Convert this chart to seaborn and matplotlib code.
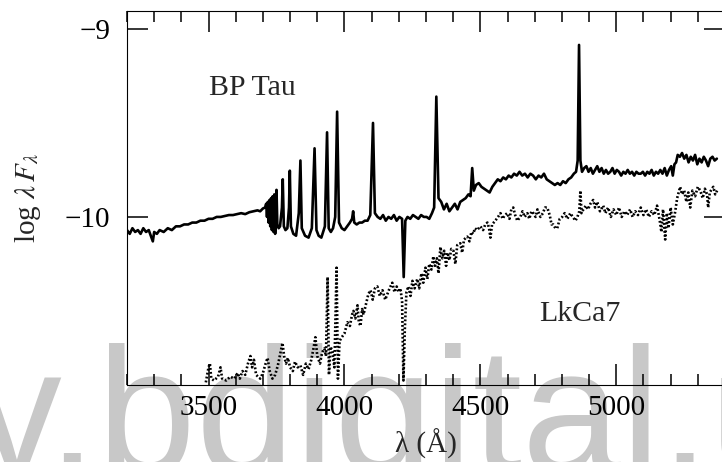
import matplotlib
matplotlib.use("Agg")
import matplotlib.pyplot as plt
import seaborn as sns
import pandas as pd
from matplotlib.ticker import MultipleLocator

# ---------------- data ----------------
bp_wave = [3200, 3210, 3220, 3230, 3240, 3250, 3260, 3270, 3280, 3290, 3295, 3300, 3310, 3320, 3335, 3350,
           3365, 3380, 3395, 3410, 3425, 3440, 3455, 3470, 3485, 3500, 3515, 3530, 3545, 3560, 3575, 3590,
           3605, 3620, 3635, 3650, 3665, 3680, 3690, 3700, 3708, 3712, 3715, 3718, 3721, 3724, 3727, 3730,
           3733, 3736, 3739, 3742, 3745, 3748, 3750, 3753, 3758, 3763, 3770, 3773, 3777, 3783, 3790, 3796,
           3799, 3803, 3812, 3822, 3832, 3838, 3843, 3855, 3868, 3880, 3890, 3897, 3905, 3915, 3928, 3936,
           3942, 3950, 3958, 3966, 3973, 3980, 3990, 4000, 4010, 4020, 4028, 4032, 4036, 4045, 4055, 4065,
           4075, 4085, 4095, 4105, 4112, 4122, 4132, 4142, 4152, 4162, 4172, 4182, 4192, 4202, 4212, 4218,
           4224, 4232, 4242, 4252, 4262, 4272, 4282, 4292, 4302, 4312, 4322, 4330, 4338, 4346, 4356, 4366,
           4376, 4386, 4396, 4406, 4416, 4426, 4436, 4446, 4456, 4464, 4470, 4476, 4484, 4494, 4504, 4514,
           4524, 4534, 4544, 4554, 4564, 4574, 4584, 4594, 4604, 4614, 4624, 4634, 4644, 4654, 4664, 4674,
           4684, 4694, 4704, 4714, 4724, 4734, 4744, 4754, 4764, 4774, 4784, 4794, 4804, 4814, 4824, 4834,
           4844, 4852, 4858, 4863, 4868, 4874, 4882, 4890, 4898, 4906, 4914, 4922, 4930, 4938, 4946, 4954,
           4962, 4970, 4978, 4986, 4994, 5002, 5010, 5018, 5026, 5034, 5042, 5050, 5058, 5066, 5074, 5082,
           5090, 5098, 5106, 5114, 5122, 5130, 5138, 5146, 5154, 5162, 5170, 5178, 5186, 5194, 5202, 5208,
           5214, 5220, 5226, 5234, 5242, 5250, 5258, 5266, 5274, 5282, 5290, 5298, 5306, 5314, 5322, 5330,
           5338, 5346, 5354, 5362, 5370]
bp_flux = [-10.07, -10.09, -10.06, -10.08, -10.07, -10.09, -10.06, -10.08, -10.07, -10.11, -10.13, -10.08,
           -10.09, -10.07, -10.08, -10.06, -10.07, -10.05, -10.05, -10.04, -10.04, -10.03, -10.03, -10.02,
           -10.02, -10.01, -10.01, -10.00, -10.00, -9.995, -9.99, -9.99, -9.985, -9.98, -9.985, -9.975,
           -9.97, -9.965, -9.97, -9.955, -9.95, -9.93, -10.0, -9.92, -10.03, -9.91, -10.05, -9.9,
           -10.07, -9.89, -10.08, -9.88, -10.09, -9.98, -9.856, -10.04, -10.06, -10.05, -9.95, -9.80,
           -10.05, -10.07, -10.06, -9.95, -9.754, -10.05, -10.09, -10.10, -9.98, -9.70, -10.06, -10.10,
           -10.11, -10.06, -9.635, -10.07, -10.10, -10.11, -10.05, -9.55, -10.06, -10.08, -10.06, -10.0,
           -9.44, -10.03, -10.06, -10.07, -10.05, -10.03, -10.01, -9.97, -10.03, -10.04, -10.03, -10.03,
           -10.02, -10.02, -9.99, -9.50, -9.98, -10.0, -10.01, -9.99, -10.02, -10.0, -10.01, -9.99,
           -10.02, -10.0, -10.01, -10.32, -10.02, -10.0, -10.01, -9.99, -10.0, -10.01, -9.99, -10.0,
           -10.0, -10.01, -9.98, -9.95, -9.36, -9.90, -9.92, -9.96, -9.93, -9.97, -9.95, -9.93,
           -9.96, -9.92, -9.91, -9.90, -9.88, -9.89, -9.74, -9.86, -9.83, -9.82, -9.84, -9.85,
           -9.86, -9.87, -9.84, -9.82, -9.80, -9.81, -9.79, -9.80, -9.78, -9.79, -9.77, -9.78,
           -9.76, -9.78, -9.77, -9.79, -9.77, -9.78, -9.80, -9.78, -9.79, -9.77, -9.80, -9.81,
           -9.82, -9.83, -9.82, -9.83, -9.81, -9.82, -9.80, -9.79, -9.77, -9.76, -9.70, -9.085,
           -9.70, -9.76, -9.74, -9.73, -9.76, -9.74, -9.77, -9.75, -9.73, -9.76, -9.74, -9.77,
           -9.75, -9.77, -9.76, -9.74, -9.77, -9.75, -9.76, -9.78, -9.76, -9.77, -9.75, -9.77,
           -9.76, -9.78, -9.76, -9.77, -9.77, -9.76, -9.78, -9.76, -9.77, -9.75, -9.78, -9.76,
           -9.77, -9.75, -9.77, -9.74, -9.78, -9.75, -9.73, -9.78, -9.72, -9.71, -9.67, -9.68,
           -9.66, -9.69, -9.67, -9.71, -9.68, -9.70, -9.67, -9.72, -9.69, -9.71, -9.68, -9.70,
           -9.73, -9.69, -9.68, -9.70, -9.69]

lk_wave = [3490, 3500, 3505, 3510, 3520, 3535, 3544, 3550, 3565, 3580, 3595, 3607, 3615, 3625, 3635, 3645,
           3654, 3660, 3667, 3675, 3690, 3700, 3710, 3717, 3725, 3735, 3745, 3755, 3765, 3772, 3778, 3785,
           3792, 3800, 3810, 3818, 3828, 3838, 3848, 3858, 3868, 3878, 3886, 3893, 3900, 3910, 3918, 3926,
           3932, 3938, 3943, 3949, 3956, 3963, 3971, 3976, 3982, 3990, 4000, 4011, 4020, 4028, 4033, 4040,
           4048, 4053, 4059, 4065, 4070, 4080, 4088, 4096, 4104, 4112, 4121, 4130, 4140, 4150, 4158, 4166,
           4176, 4184, 4192, 4200, 4206, 4212, 4217, 4222, 4228, 4235, 4243, 4250, 4258, 4268, 4275, 4283,
           4290, 4298, 4305, 4312, 4320, 4327, 4333, 4340, 4346, 4353, 4360, 4367, 4374, 4379, 4386, 4393,
           4401, 4408, 4415, 4426, 4433, 4440, 4452, 4460, 4467, 4474, 4480, 4488, 4500, 4510, 4518, 4526,
           4532, 4537, 4543, 4555, 4565, 4574, 4582, 4590, 4599, 4607, 4614, 4621, 4628, 4636, 4647, 4655,
           4663, 4673, 4680, 4688, 4695, 4703, 4710, 4721, 4730, 4738, 4746, 4755, 4762, 4768, 4776, 4783,
           4792, 4801, 4810, 4820, 4831, 4840, 4850, 4857, 4864, 4868, 4872, 4879, 4888, 4896, 4905, 4915,
           4922, 4930, 4940, 4952, 4960, 4970, 4980, 4990, 5000, 5010, 5020, 5030, 5040, 5051, 5060, 5070,
           5080, 5090, 5100, 5110, 5120, 5130, 5140, 5150, 5160, 5166, 5172, 5180, 5186, 5192, 5200, 5208,
           5217, 5224, 5235, 5242, 5250, 5258, 5265, 5272, 5280, 5290, 5300, 5309, 5318, 5326, 5334, 5338,
           5344, 5352, 5357, 5364, 5371]
lk_flux = [-10.88, -10.80, -10.78, -10.86, -10.87, -10.85, -10.80, -10.86, -10.87, -10.85, -10.86, -10.83,
           -10.86, -10.82, -10.84, -10.78, -10.74, -10.80, -10.76, -10.84, -10.86, -10.83, -10.78, -10.75,
           -10.82, -10.86, -10.84, -10.79, -10.72, -10.67, -10.74, -10.78, -10.75, -10.80, -10.82, -10.77,
           -10.80, -10.79, -10.84, -10.78, -10.81, -10.76, -10.70, -10.64, -10.74, -10.78, -10.72, -10.70,
           -10.74, -10.32, -10.84, -10.69, -10.72, -10.80, -10.27, -10.86, -10.66, -10.64, -10.62, -10.56,
           -10.58, -10.52, -10.50, -10.54, -10.47, -10.56, -10.58, -10.49, -10.52, -10.46, -10.41, -10.39,
           -10.44, -10.38, -10.37, -10.42, -10.39, -10.44, -10.41, -10.38, -10.35, -10.40, -10.37, -10.40,
           -10.38, -10.45, -10.87, -10.60, -10.40, -10.37, -10.42, -10.34, -10.38, -10.33, -10.38, -10.30,
           -10.35, -10.27, -10.33, -10.25, -10.28, -10.21, -10.26, -10.22, -10.30, -10.16, -10.22, -10.18,
           -10.26, -10.19, -10.23, -10.17, -10.18, -10.25, -10.15, -10.14, -10.19, -10.12, -10.105, -10.13,
           -10.08, -10.09, -10.06, -10.07, -10.05, -10.07, -10.04, -10.03, -10.06, -10.11, -10.04, -10.02,
           -10.00, -9.98, -10.01, -9.99, -9.98, -10.01, -9.96, -9.95, -9.99, -10.02, -10.00, -9.97,
           -10.00, -9.98, -10.01, -9.97, -9.98, -10.00, -9.96, -10.00, -9.98, -9.95, -9.95, -9.99,
           -10.04, -10.04, -10.06, -10.06, -10.01, -10.00, -9.98, -10.01, -9.98, -10.00, -10.02, -10.00,
           -9.97, -9.86, -9.98, -9.96, -9.94, -9.96, -9.93, -9.91, -9.95, -9.92, -9.97, -9.94,
           -9.98, -9.95, -10.00, -9.96, -9.99, -9.95, -10.00, -9.97, -9.99, -9.96, -10.00, -9.97,
           -9.99, -9.95, -9.99, -9.96, -10.00, -9.97, -9.99, -9.94, -10.02, -10.08, -9.96, -10.12,
           -9.98, -10.06, -9.95, -10.04, -9.97, -9.90, -9.84, -9.88, -9.86, -9.92, -9.87, -9.95,
           -9.86, -9.89, -9.84, -9.86, -9.90, -9.85, -9.88, -9.95, -9.87, -9.85, -9.84, -9.88, -9.86]

x_ticks = [3500, 4000, 4500, 5000]
x_tick_labels = ["3500", "4000", "4500", "5000"]
y_ticks = [-10, -9]
y_tick_labels = ["\u221210", "\u22129"]

bp = pd.DataFrame({"wave": bp_wave, "flux": bp_flux})
lk = pd.DataFrame({"wave": lk_wave, "flux": lk_flux})

# ---------------- style ----------------
sns.set_style("ticks", rc={
    "xtick.direction": "in", "ytick.direction": "in",
    "xtick.top": True, "ytick.right": True,
    "xtick.bottom": True, "ytick.left": True,
    "xtick.major.size": 15, "ytick.major.size": 15,
    "xtick.minor.size": 8, "ytick.minor.size": 8,
    "xtick.major.width": 1.1, "ytick.major.width": 1.1,
    "xtick.minor.width": 1.1, "ytick.minor.width": 1.1,
    "xtick.color": "black", "ytick.color": "black",
    "axes.edgecolor": "black", "axes.linewidth": 1.5,
})
plt.rcParams["font.family"] = ["Liberation Serif", "DejaVu Serif"]
plt.rcParams["mathtext.fontset"] = "stix"

fig = plt.figure(figsize=(7.22, 4.62), dpi=100)
fig.patch.set_facecolor("white")
ax = fig.add_axes([127 / 722, 77 / 462, 598 / 722, (385 - 10.7) / 462])
ax.set_facecolor("none")

# watermark behind the axes
fig.text(-28 / 722, -10 / 462, "v.bdigital.u", fontsize=128, color="#c8c8c8",
         family="Liberation Sans", ha="left", va="baseline", zorder=-10)

sns.lineplot(data=bp, x="wave", y="flux", ax=ax, color="black", lw=1.9,
             estimator=None, sort=False)
sns.lineplot(data=lk, x="wave", y="flux", ax=ax, color="black", lw=1.9,
             estimator=None, sort=False, linestyle=(0, (0.7, 0.8)))

ax.set_xlim(3200, 5400)
ax.set_ylim(-10.894, -8.903)

ax.set_xticks(x_ticks)
ax.set_xticklabels(x_tick_labels)
ax.set_yticks(y_ticks)
ax.set_yticklabels(y_tick_labels)
ax.xaxis.set_minor_locator(MultipleLocator(100))

ax.tick_params(axis="both", which="major", direction="in", length=15, width=1.1,
               top=True, right=True, bottom=True, left=True, labelsize=21)
ax.tick_params(axis="x", which="major", pad=7)
ax.tick_params(axis="y", which="major", pad=12)
ax.tick_params(axis="x", which="minor", direction="in", length=8, width=1.1,
               top=True, bottom=True)
ax.tick_params(axis="y", which="minor", left=False, right=False)

ax.set_xlabel("\u03bb (\u00c5)", fontsize=21, labelpad=6)
ax.set_ylabel(r"log $\lambda\,F_\lambda$", fontsize=21, labelpad=16)

ax.text(3500, -9.351, "BP Tau", fontsize=21.5, va="baseline", ha="left")
ax.text(4717, -10.553, "LkCa7", fontsize=21.5, va="baseline", ha="left")

fig.savefig("out.png", dpi=100)
